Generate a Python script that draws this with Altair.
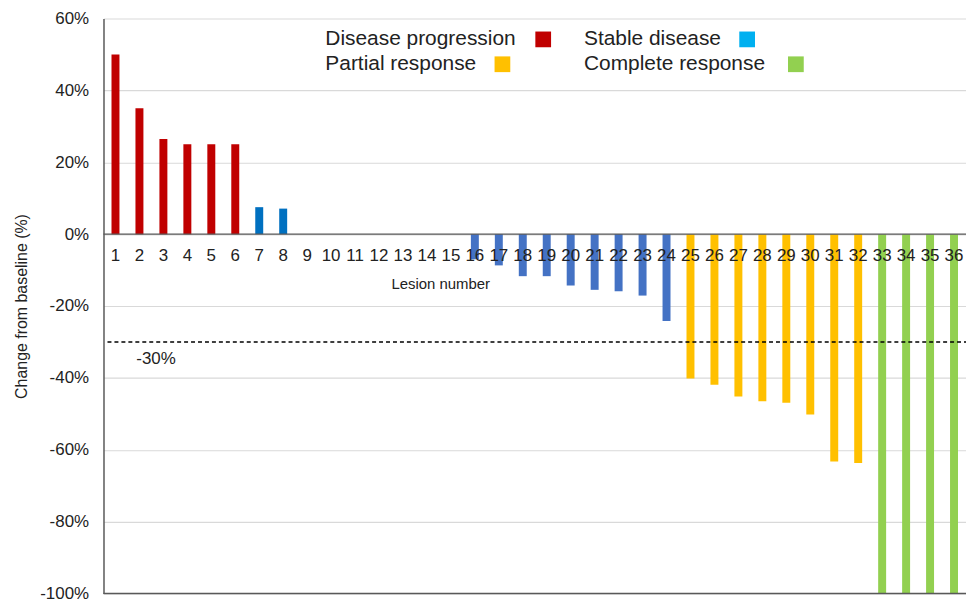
import altair as alt
import pandas as pd

# ---- data ----
lesions = list(range(1, 37))
changes = [50, 35, 26.5, 25, 25, 25, 7.5, 7.1,
           0, 0, 0, 0, 0, 0, 0,
           -7, -8.7, -11.7, -11.7, -14.3, -15.5, -15.9, -17.1, -24.2,
           -40.2, -41.9, -45.2, -46.5, -46.9, -50.2, -63.3, -63.7,
           -100, -100, -100, -100]
groups = (["Disease progression"] * 6
          + ["Stable disease (increase)"] * 2
          + ["Stable disease (no change)"] * 7
          + ["Stable disease (decrease)"] * 9
          + ["Partial response"] * 8
          + ["Complete response"] * 4)

group_names = ["Disease progression", "Stable disease (increase)",
               "Stable disease (no change)", "Stable disease (decrease)",
               "Partial response", "Complete response"]
group_colors = ["#C00000", "#0070C0", "#0070C0", "#4472C4", "#FFC000", "#92D050"]

legend_labels = ["Disease progression", "Stable disease",
                 "Partial response", "Complete response"]
legend_colors = ["#C00000", "#00B0F0", "#FFC000", "#92D050"]

y_ticks = [-100, -80, -60, -40, -20, 0, 20, 40, 60]
threshold = -30

FONT = "Liberation Sans"
W, H = 867, 578

df = pd.DataFrame({"lesion": lesions, "change": changes, "group": groups})

yscale = alt.Scale(domain=[-100, 60], nice=False)
xscale = alt.Scale(paddingInner=0, paddingOuter=0)

base = alt.Chart(df)

bars = base.mark_bar(size=8).encode(
    x=alt.X("lesion:O", scale=xscale, axis=None),
    y=alt.Y("change:Q", scale=yscale,
            axis=alt.Axis(values=y_ticks, labelExpr="datum.value + '%'",
                          grid=True, gridColor="#d9d9d9", gridWidth=1.2,
                          domainColor="#595959", domainWidth=1.5,
                          ticks=False, labelFont=FONT, labelFontSize=17,
                          labelColor="#222222", labelPadding=15,
                          title="Change from baseline (%)", titleFont=FONT,
                          titleFontSize=16, titleFontWeight="normal",
                          titleColor="#222222", titlePadding=10)),
    color=alt.Color("group:N", scale=alt.Scale(domain=group_names, range=group_colors),
                    legend=None),
)

zero_rule = alt.Chart(pd.DataFrame({"v": [0]})).mark_rule(
    color="#595959", strokeWidth=1.5).encode(y=alt.Y("v:Q", scale=yscale))
bottom_rule = alt.Chart(pd.DataFrame({"v": [-100]})).mark_rule(
    color="#595959", strokeWidth=1.5).encode(y=alt.Y("v:Q", scale=yscale))

thr_df = pd.DataFrame({"v": [threshold], "t": [f"{threshold}%"]})
thr_rule = alt.Chart(thr_df).mark_rule(
    color="#000000", strokeWidth=1.5, strokeDash=[4, 3]).encode(
    y=alt.Y("v:Q", scale=yscale), x=alt.value(4), x2=alt.value(W))
thr_text = alt.Chart(thr_df).mark_text(
    align="left", baseline="middle", dy=17, font=FONT, fontSize=17,
    color="#222222").encode(
    y=alt.Y("v:Q", scale=yscale), x=alt.value(33), text="t:N")

num_labels = base.mark_text(baseline="middle", dy=22, font=FONT, fontSize=17,
                            color="#222222").encode(
    x=alt.X("lesion:O", scale=xscale), y=alt.datum(0), text="lesion:O")

xtitle = alt.Chart(pd.DataFrame({"t": ["Lesion number"], "v": [-13.8]})).mark_text(
    baseline="middle", align="center", font=FONT, fontSize=15,
    color="#222222").encode(x=alt.value(339), y=alt.Y("v:Q", scale=yscale), text="t:N")

leg_df = pd.DataFrame({
    "label": legend_labels,
    "color": legend_colors,
    "tx": [223, 483, 223, 483],
    "sx": [442, 647, 401, 696],
    "ly": [21, 21, 46, 46],
})
leg_text = alt.Chart(leg_df).mark_text(
    align="left", baseline="middle", font=FONT, fontSize=21, color="#222222").encode(
    x=alt.X("tx:Q", scale=None), y=alt.Y("ly:Q", scale=None), text="label:N")
leg_sq = alt.Chart(leg_df).mark_square(size=250, opacity=1, filled=True).encode(
    x=alt.X("sx:Q", scale=None), y=alt.Y("ly:Q", scale=None),
    color=alt.Color("color:N", scale=None))

chart = alt.layer(
    bars, zero_rule, bottom_rule, thr_rule, thr_text, num_labels, xtitle,
    leg_text, leg_sq
).properties(
    width=W, height=H,
    autosize=alt.AutoSizeParams(type="none"),
    padding={"left": 96, "top": 9, "right": 0, "bottom": 9},
    background="white",
).configure_view(stroke=None)

chart.save("out.html", embed_options={"renderer": "svg", "actions": False})
